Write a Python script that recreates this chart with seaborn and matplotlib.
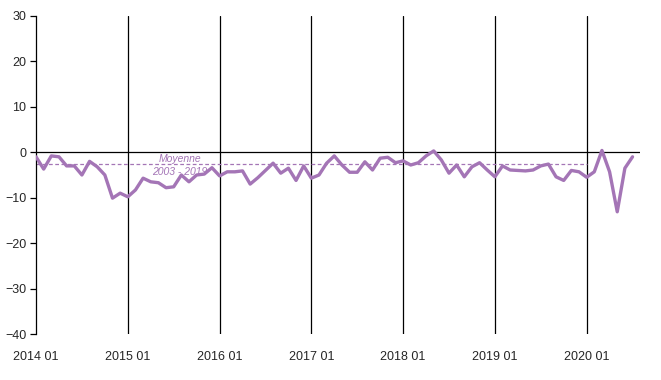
import numpy as np
import pandas as pd
import matplotlib
matplotlib.use('Agg')
import matplotlib.pyplot as plt
import seaborn as sns

# monthly values, 2014 01 -> 2020 07
values = [-1.0, -3.7, -0.8, -1.0, -3.0, -3.0, -5.0, -2.0, -3.2, -5.0, -10.1, -9.0,
          -9.8, -8.3, -5.7, -6.5, -6.7, -7.8, -7.6, -5.0, -6.5, -5.0, -4.8, -3.4,
          -5.2, -4.3, -4.3, -4.1, -7.0, -5.6, -4.0, -2.4, -4.6, -3.5, -6.2, -3.0,
          -5.7, -5.0, -2.4, -0.8, -2.8, -4.4, -4.4, -2.1, -3.9, -1.3, -1.1, -2.3,
          -1.9, -2.8, -2.3, -0.8, 0.3, -1.7, -4.6, -2.8, -5.4, -3.2, -2.3, -3.9,
          -5.4, -3.0, -3.9, -4.0, -4.1, -3.9, -3.0, -2.6, -5.4, -6.2, -4.0, -4.3,
          -5.5, -4.3, 0.4, -4.3, -13.1, -3.5, -1.0]
year_labels = ['2014 01', '2015 01', '2016 01', '2017 01', '2018 01', '2019 01', '2020 01']
mean_value = -2.5
mean_label = 'Moyenne\n2003 - 2019'

df = pd.DataFrame({'month': np.arange(len(values)), 'value': values})
year_pos = np.arange(len(year_labels)) * 12

sns.set_style('white')
plt.rcParams['font.family'] = ['Liberation Sans', 'DejaVu Sans']

fig = plt.figure(figsize=(6.61, 3.80), dpi=100)
ax = fig.add_axes([0.0545, 0.121, 0.914, 0.837])

purple = '#A475B6'

# year separators and zero line
for xp in year_pos[1:]:
    ax.axvline(xp, color='black', lw=0.9, zorder=1)
ax.axhline(0, color='black', lw=0.9, zorder=1)

# 2003-2019 average
ax.plot([0, year_pos[-1]], [mean_value, mean_value], color=purple, lw=0.9,
        dashes=(3, 2), zorder=2)
ax.text(18.8, -2.9, mean_label, color=purple, fontsize=7.5, style='italic',
        ha='center', va='center', linespacing=1.35, zorder=3)

sns.lineplot(data=df, x='month', y='value', color=purple, lw=2.4, ax=ax, zorder=4)

ax.set_xlim(0, 79)
ax.set_ylim(-40, 30)
ax.set_yticks(np.arange(-40, 31, 10))
ax.set_xticks(year_pos)
ax.set_xticklabels(year_labels)
ax.set_xlabel('')
ax.set_ylabel('')
ax.tick_params(axis='y', which='major', direction='out', length=4, width=0.9,
               color='black', labelsize=9, pad=3, left=True)
ax.tick_params(axis='x', length=0, labelsize=9, pad=12)

for s in ['top', 'right', 'bottom']:
    ax.spines[s].set_visible(False)
ax.spines['left'].set_color('black')
ax.spines['left'].set_linewidth(0.9)

fig.savefig('out.png', dpi=100)
